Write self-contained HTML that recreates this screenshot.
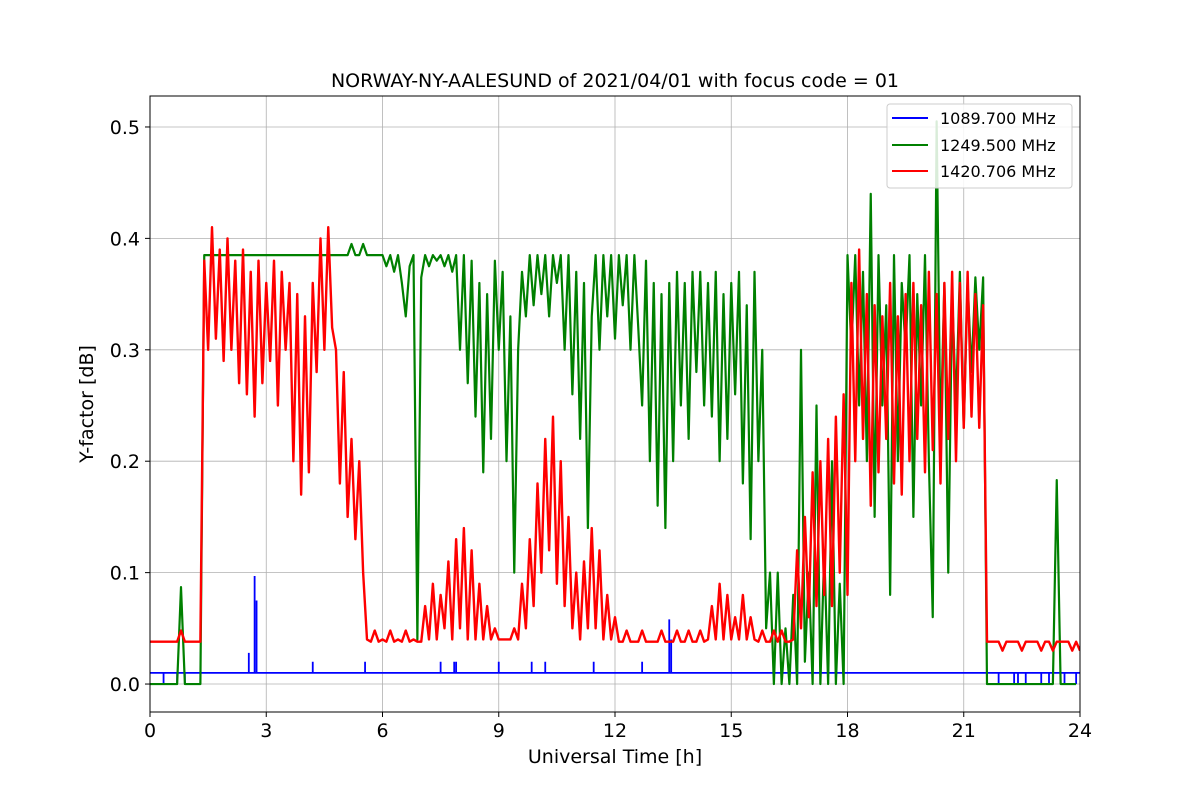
<!DOCTYPE html>
<html><head><meta charset="utf-8"><style>
html,body{margin:0;padding:0;background:#fff;}
svg{display:block;font-family:"DejaVu Sans","Liberation Sans",sans-serif;}
</style></head><body>
<svg id="chart" width="1200" height="800" viewBox="0 0 1200 800" xmlns="http://www.w3.org/2000/svg">
<defs><clipPath id="plotclip"><rect x="150" y="96" width="930" height="616"/></clipPath></defs>
<rect x="0" y="0" width="1200" height="800" fill="#fff"/>
<text x="615" y="87" font-size="19" text-anchor="middle" fill="#000">NORWAY-NY-AALESUND of 2021/04/01 with focus code = 01</text>
<g id="grid"></g>
<g id="series" clip-path="url(#plotclip)"></g>
<rect x="150" y="96" width="930" height="616" fill="none" stroke="#000" stroke-width="1"/>
<g id="ticks"></g>
<text x="615" y="763" font-size="19" text-anchor="middle">Universal Time [h]</text>
<text x="0" y="0" font-size="19" text-anchor="middle" transform="translate(93,404) rotate(-90)">Y-factor [dB]</text>
<g>
<rect x="887" y="104" width="185" height="84" rx="3" fill="#fff" fill-opacity="0.85" stroke="#ccc"/>
<line x1="892" y1="118" x2="928" y2="118" stroke="#0000ff" stroke-width="2"/>
<text x="940" y="124" font-size="16">1089.700 MHz</text>
<line x1="892" y1="145" x2="928" y2="145" stroke="#008000" stroke-width="2"/>
<text x="940" y="151" font-size="16">1249.500 MHz</text>
<line x1="892" y1="171" x2="928" y2="171" stroke="#ff0000" stroke-width="2"/>
<text x="940" y="177" font-size="16">1420.706 MHz</text>
</g>
</svg>
<script>
const xTicks=[0,3,6,9,12,15,18,21,24];
const yTicks=[0.0,0.1,0.2,0.3,0.4,0.5];
const yTickLabels=["0.0","0.1","0.2","0.3","0.4","0.5"];
const sampleStep=0.1;
const blueBase=0.01;
const blueSpikeT=[0.35,0.7,0.9,2.55,2.7,2.75,4.2,5.55,7.5,7.85,7.9,9.0,9.85,10.2,11.45,12.7,13.4,13.45,21.9,22.3,22.4,22.6,23.0,23.2,23.3,23.5,23.6,23.9];
const blueSpikeV=[0.0,0.0,0.0,0.028,0.097,0.075,0.02,0.02,0.02,0.02,0.02,0.02,0.02,0.02,0.02,0.02,0.058,0.04,0.0,0.0,0.0,0.0,0.0,0.0,0.0,0.0,0.0,0.0];
const greenV=[
0,0,0,0,0,0,0,0,0.087,0,0,0,0,0,
0.385,0.385,0.385,0.385,0.385,0.385,0.385,0.385,0.385,0.385,
0.385,0.385,0.385,0.385,0.385,0.385,0.385,0.385,0.385,0.385,
0.385,0.385,0.385,0.385,0.385,0.385,0.385,0.385,0.385,0.385,
0.385,0.385,0.385,0.385,
0.385,0.385,0.385,0.385,0.395,0.385,0.385,0.395,0.385,0.385,0.385,0.385,
0.385,0.375,0.385,0.37,0.385,0.36,0.33,0.375,0.385,0.04,
0.365,0.385,0.375,0.385,0.38,0.385,0.375,0.385,0.37,0.385,
0.30,0.385,0.27,0.38,0.24,0.36,0.19,0.35,0.22,0.38,0.30,0.37,0.20,0.33,0.10,
0.30,0.37,0.33,0.385,0.34,0.385,0.35,0.385,0.33,0.385,0.36,0.385,0.30,0.385,0.26,0.37,0.22,0.36,0.14,0.33,
0.385,0.30,0.385,0.33,0.385,0.31,0.385,0.34,0.385,0.30,0.385,0.32,
0.25,0.38,0.20,0.36,0.16,0.35,0.14,0.36,0.20,0.37,0.25,0.36,0.22,0.37,
0.28,0.37,0.25,0.36,0.24,0.37,0.20,0.35,0.22,0.36,0.26,0.37,0.18,0.34,0.13,0.37,0.20,0.30,0.05,0.10,
0.0,0.10,0.0,0.05,0.0,0.08,0.0,0.30,0.02,0.10,0.0,0.25,0.0,0.12,0.0,0.20,0.0,0.09,0.0,
0.385,0.30,0.385,0.25,0.37,0.20,0.44,0.15,0.385,0.25,0.34,0.08,0.385,0.20,0.36,0.30,0.385,0.15,0.35,0.25,0.385,0.20,0.06,0.505,0.22,0.36,0.10,0.35,0.25,0.37,0.23,0.36,0.28,0.365,0.30,0.365,
0,0,0,0,0,0,0,0,0,0,0,0,0,0,0,0,0,0,0.183,0,0,0,0,0];
const redV=[
0.038,0.038,0.038,0.038,0.038,0.038,0.038,0.038,0.048,0.038,0.038,0.038,0.038,0.038,
0.38,0.30,0.41,0.31,0.39,0.29,0.40,0.30,0.38,0.27,0.39,0.26,0.37,0.24,0.38,0.27,0.36,0.29,0.38,0.25,
0.37,0.30,0.36,0.20,0.35,0.17,0.33,0.19,0.36,0.28,0.40,0.30,0.41,0.32,
0.30,0.18,0.28,0.15,0.22,0.13,0.20,0.10,
0.04,0.038,0.048,0.038,0.04,0.038,0.048,0.038,0.04,0.038,0.048,0.038,0.04,0.038,
0.038,0.07,0.04,0.09,0.04,0.08,0.05,0.11,0.04,0.13,0.05,0.14,0.04,0.12,0.04,0.09,0.04,0.07,0.04,0.05,0.04,0.04,0.04,0.04,0.05,
0.04,0.09,0.05,0.13,0.07,0.18,0.10,0.22,0.12,0.24,0.09,0.20,0.07,0.15,0.05,0.10,
0.04,0.11,0.05,0.14,0.05,0.12,0.04,0.08,0.04,0.06,
0.038,0.038,0.048,0.038,0.038,0.038,0.048,0.038,0.038,0.038,0.038,0.048,0.038,0.038,0.038,0.048,0.038,0.038,0.048,0.038,0.038,0.048,0.038,
0.04,0.07,0.04,0.09,0.04,0.08,0.04,0.06,0.04,0.08,0.04,0.06,0.04,
0.038,0.048,0.038,0.038,0.048,0.038,0.048,0.038,0.038,
0.04,0.12,0.05,0.15,0.06,0.19,0.07,0.20,0.08,0.22,0.07,0.24,0.10,0.26,0.08,
0.36,0.20,0.39,0.22,0.35,0.16,0.34,0.19,0.33,0.22,0.36,0.18,0.33,0.17,0.35,0.20,0.36,0.22,0.34,0.19,0.37,0.21,0.35,0.18,0.36,0.22,0.37,0.20,0.36,0.23,0.37,0.24,0.35,0.23,0.34,
0.038,0.038,0.038,0.038,0.03,0.038,0.038,0.038,0.038,0.03,0.038,0.038,0.038,0.038,0.03,0.038,0.038,0.03,0.038,0.038,0.038,0.038,0.03,0.038,0.03];

const X0=150,X1=1080,Y0=712,Y1=96;
const xMin=0,xMax=24,yMin=-0.0251,yMax=0.5278;
const xs=t=>X0+(t-xMin)/(xMax-xMin)*(X1-X0);
const ys=v=>Y0-(v-yMin)/(yMax-yMin)*(Y0-Y1);
const NS="http://www.w3.org/2000/svg";
const grid=document.getElementById('grid'),ticks=document.getElementById('ticks'),series=document.getElementById('series');
function mk(tag,attrs,parent){const e=document.createElementNS(NS,tag);for(const k in attrs)e.setAttribute(k,attrs[k]);parent.appendChild(e);return e;}
xTicks.forEach(t=>{
  const g=mk('line',{x1:xs(t),x2:xs(t),y1:Y1,y2:Y0,stroke:'#b0b0b0','stroke-width':0.8},grid);
  
  
  mk('line',{x1:xs(t),x2:xs(t),y1:Y0,y2:Y0+5,stroke:'#000'},ticks);
  const l=mk('text',{x:xs(t),y:Y0+25,'font-size':19,'text-anchor':'middle'},ticks);
  l.textContent=String(t);
  
  
});
yTicks.forEach((v,i)=>{
  const g=mk('line',{x1:X0,x2:X1,y1:ys(v),y2:ys(v),stroke:'#b0b0b0','stroke-width':0.8},grid);
  
  
  mk('line',{x1:X0-5,x2:X0,y1:ys(v),y2:ys(v),stroke:'#000'},ticks);
  const l=mk('text',{x:X0-10,y:ys(v)+7,'font-size':19,'text-anchor':'end'},ticks);
  l.textContent=yTickLabels[i];
  
  
});
let bd='M'+xs(0)+','+ys(blueBase);
blueSpikeT.forEach((t,i)=>{bd+=' L'+xs(t)+','+ys(blueBase)+' L'+xs(t)+','+ys(blueSpikeV[i])+' L'+xs(t)+','+ys(blueBase);});
bd+=' L'+xs(24)+','+ys(blueBase);
const bp=mk('path',{d:bd,fill:'none',stroke:'#0000ff','stroke-width':1.8},series);


function linePath(vals){return vals.map((v,i)=>(i?'L':'M')+xs(i*sampleStep).toFixed(2)+','+ys(v).toFixed(2)).join(' ');}
const gp=mk('path',{d:linePath(greenV),fill:'none',stroke:'#008000','stroke-width':2.2,'stroke-linejoin':'round'},series);


const rp=mk('path',{d:linePath(redV),fill:'none',stroke:'#ff0000','stroke-width':2.4,'stroke-linejoin':'round'},series);


</script>
</body></html>
